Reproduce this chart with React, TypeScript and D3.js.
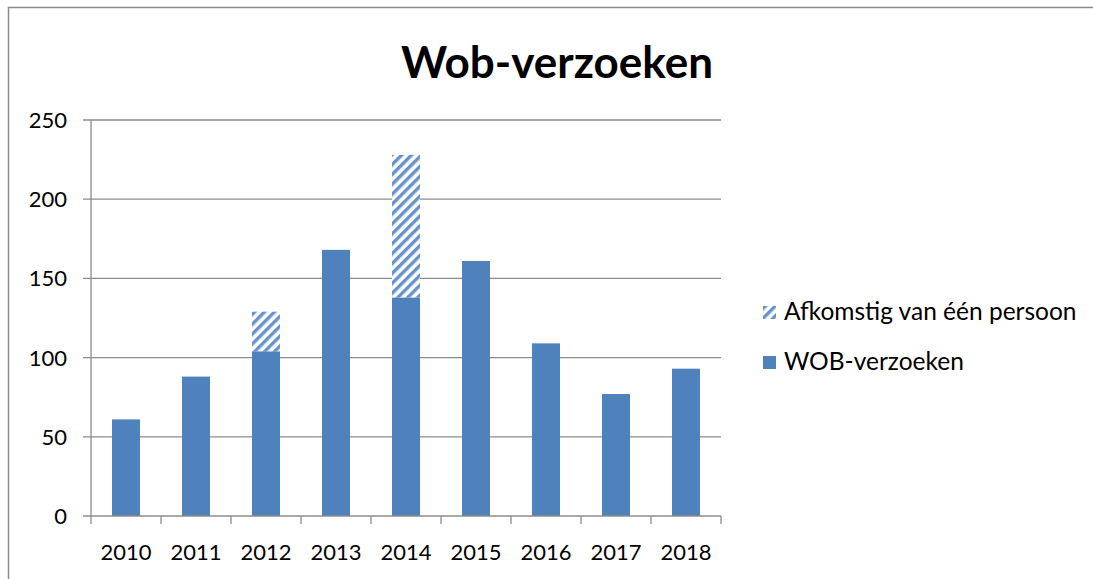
import React from "react";
import * as d3 from "d3";

const years = ["2010", "2011", "2012", "2013", "2014", "2015", "2016", "2017", "2018"];
const wobValues = [61, 88, 104, 168, 138, 161, 109, 77, 93];
const onePersonValues = [0, 0, 25, 0, 90, 0, 0, 0, 0];
const yTicks = [0, 50, 100, 150, 200, 250];
const seriesNames = ["Afkomstig van één persoon", "WOB-verzoeken"];

const W = 1093;
const H = 579;
const FONT = "Lato, 'Open Sans', sans-serif";
const BLUE = "#4F81BD";

export default function App() {
  const left = 91, right = 721, top = 120, bottom = 516;
  const x = d3.scaleBand<string>().domain(years).range([left, right]).paddingInner(0.6).paddingOuter(0.3);
  const xb = d3.scaleBand<string>().domain(years).range([left, right]);
  const y = d3.scaleLinear().domain([0, 250]).range([bottom, top]);

  return (
    <svg width={W} height={H} style={{ position: "absolute", left: 0, top: 0 }}>
      <defs>
        <pattern id="hatch" patternUnits="userSpaceOnUse" width="7" height="7" patternTransform="rotate(45)">
          <rect width="7" height="7" fill="#ffffff" />
          <rect x="0" y="0" width="3.4" height="7" fill="#6693cc" />
        </pattern>
      </defs>
      <rect x={0} y={0} width={W} height={H} fill="#fff" />
      <rect x={8.5} y={7.5} width={W + 20} height={H + 20} fill="none" stroke="#8c8c8c" strokeWidth={1.5} />
      <text x={557} y={78} textAnchor="middle" fontFamily={FONT} fontWeight="bold" fontSize={44} fill="#000">
        Wob-verzoeken
      </text>
      {yTicks.map((t) => (
        <g key={t}>
          {t > 0 && <line x1={left - 8} x2={right} y1={y(t)} y2={y(t)} stroke="#8c8c8c" strokeWidth={1.3} />}
          <text x={67} y={y(t) + 8} textAnchor="end" fontFamily={FONT} fontSize={22} fill="#000">
            {t}
          </text>
        </g>
      ))}
      {years.map((yr, i) => {
        const bx = x(yr)!;
        const bw = x.bandwidth();
        return (
          <g key={yr}>
            <rect x={bx} y={y(wobValues[i])} width={bw} height={y(0) - y(wobValues[i])} fill={BLUE} />
            {onePersonValues[i] > 0 && (
              <rect
                x={bx}
                y={y(wobValues[i] + onePersonValues[i])}
                width={bw}
                height={y(wobValues[i]) - y(wobValues[i] + onePersonValues[i])}
                fill="url(#hatch)"
              />
            )}
          </g>
        );
      })}
      <line x1={left} x2={left} y1={top} y2={bottom} stroke="#8c8c8c" strokeWidth={1.3} />
      <line x1={left - 8} x2={right} y1={bottom} y2={bottom} stroke="#8c8c8c" strokeWidth={1.3} />
      {years.concat(["end"]).map((yr, i) => {
        const tx = i < years.length ? xb(yr)! : right;
        return <line key={"t" + i} x1={tx} x2={tx} y1={bottom} y2={bottom + 8} stroke="#8c8c8c" strokeWidth={1.3} />;
      })}
      {years.map((yr) => (
        <text key={"l" + yr} x={xb(yr)! + xb.bandwidth() / 2} y={560} textAnchor="middle" fontFamily={FONT} fontSize={22} fill="#000">
          {yr}
        </text>
      ))}
      <rect x={763} y={306} width={13} height={13} fill="url(#hatch)" />
      <text x={784} y={320} fontFamily={FONT} fontSize={24.5} fill="#000">{seriesNames[0]}</text>
      <rect x={763} y={356} width={13} height={13} fill={BLUE} />
      <text x={784} y={370} fontFamily={FONT} fontSize={24.5} fill="#000">{seriesNames[1]}</text>
    </svg>
  );
}
